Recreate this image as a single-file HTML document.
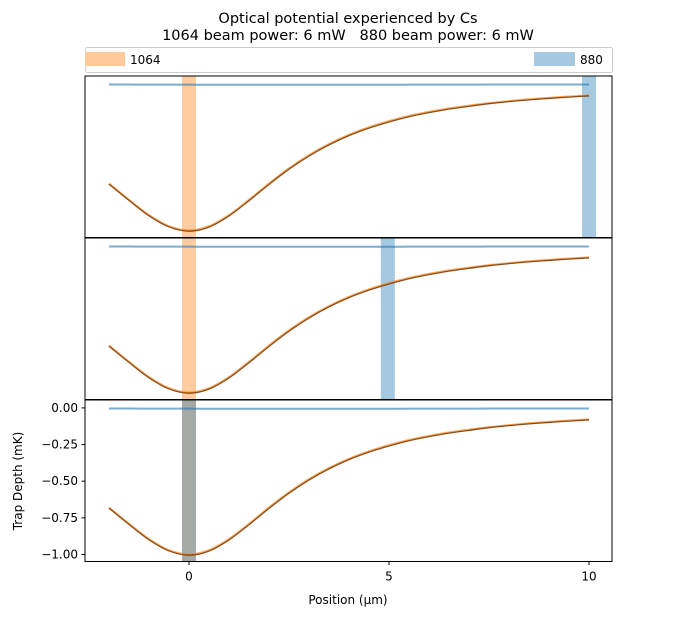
<!DOCTYPE html>
<html><head><meta charset="utf-8">
<style>body{margin:0;background:#fff}svg{display:block;font-family:"DejaVu Sans","Liberation Sans",sans-serif}</style>
</head><body>
<svg id="chart" width="680" height="631" xmlns="http://www.w3.org/2000/svg">
<text x="348" y="23" font-size="14.5" text-anchor="middle">Optical potential experienced by Cs</text>
<text x="348" y="40" font-size="14.5" text-anchor="middle" xml:space="preserve" style="white-space:pre">1064 beam power: 6 mW   880 beam power: 6 mW</text>
<g>
<rect x="85.5" y="47.5" width="527" height="25" fill="#fff" stroke="#ccc" rx="2"/>
<rect x="85" y="52" width="40" height="14" fill="#ffc999"/>
<text x="130" y="64" font-size="12">1064</text>
<rect x="534" y="52" width="41" height="14" fill="#a6c8e0"/>
<text x="580" y="64" font-size="12">880</text>
</g>
<g id="plots"></g>
</svg>
<script>
const positions=[-2,-1.5,-1,-0.5,0,0.5,1,1.5,2,2.5,3,3.5,4,4.5,5,5.5,6,6.5,7,7.5,8,8.5,9,9.5,10];
const trap1064=[-0.680,-0.791,-0.895,-0.971,-1.000,-0.971,-0.895,-0.791,-0.680,-0.576,-0.486,-0.410,-0.347,-0.296,-0.254,-0.219,-0.191,-0.167,-0.148,-0.131,-0.117,-0.105,-0.095,-0.086,-0.078];
const trap880=[-0.004,-0.004,-0.005,-0.005,-0.005,-0.006,-0.006,-0.006,-0.006,-0.006,-0.006,-0.006,-0.006,-0.006,-0.006,-0.005,-0.005,-0.005,-0.005,-0.004,-0.004,-0.004,-0.004,-0.004,-0.004];
const beam880Pos=[10,4.97,0];
const beam1064Pos=[0,0,0];
const yTicks=[0,-0.25,-0.5,-0.75,-1.0];
const yTickLabels=["0.00","−0.25","−0.50","−0.75","−1.00"];
const xTicks=[0,5,10];
const xTickLabels=["0","5","10"];

const NS="http://www.w3.org/2000/svg";
const g=document.getElementById('plots');
const L=85,R=612,xmin=-2.6,xmax=10.575;
const panelTops=[76,238,400],PH=161.5,ymax=0.054,ymin=-1.048;
const X=v=>L+(v-xmin)/(xmax-xmin)*(R-L);
function mk(t,a,p){const e=document.createElementNS(NS,t);for(const k in a)e.setAttribute(k,a[k]);(p||g).appendChild(e);return e;}
const total=trap1064.map((v,i)=>v+trap880[i]);
panelTops.forEach((top,pi)=>{
  const Y=v=>top+(ymax-v)/(ymax-ymin)*PH;
  const pg=mk('g',{});
  
  
  const bw=0.35*(R-L)/(xmax-xmin);
  const b1=mk('rect',{x:X(beam1064Pos[pi])-bw/2,y:top,width:bw,height:PH,fill:'#ff7f0e','fill-opacity':0.4},pg);
  
  
  const b2=mk('rect',{x:X(beam880Pos[pi])-bw/2,y:top,width:bw,height:PH,fill:'#1f77b4','fill-opacity':0.4},pg);
  
  
  const path=arr=>{
    const p=arr.map((v,i)=>[X(positions[i]),Y(v)]);
    let d='M'+p[0][0].toFixed(2)+','+p[0][1].toFixed(2);
    for(let i=0;i<p.length-1;i++){
      const p0=p[Math.max(0,i-1)],p1=p[i],p2=p[i+1],p3=p[Math.min(p.length-1,i+2)];
      const c1=[p1[0]+(p2[0]-p0[0])/6,p1[1]+(p2[1]-p0[1])/6];
      const c2=[p2[0]-(p3[0]-p1[0])/6,p2[1]-(p3[1]-p1[1])/6];
      d+='C'+c1.map(n=>n.toFixed(2))+' '+c2.map(n=>n.toFixed(2))+' '+p2.map(n=>n.toFixed(2));
    }
    return d;
  };
  const l880=mk('path',{d:path(trap880),fill:'none',stroke:'#1f77b4','stroke-opacity':0.6,'stroke-width':2},pg);
  
  
  const l1064=mk('path',{d:path(trap1064),fill:'none',stroke:'#ff7f0e','stroke-opacity':0.7,'stroke-width':2},pg);
  
  
  const lt=mk('path',{d:path(total),fill:'none',stroke:'#6b3508','stroke-width':1.3,'stroke-opacity':0.8},pg);
  
  
  const fr=mk('rect',{x:L,y:top,width:R-L,height:PH,fill:'none',stroke:'#000','stroke-width':1},pg);
  
  
  if(pi===2){
    yTicks.forEach((t,i)=>{
      mk('line',{x1:L-3.5,x2:L,y1:Y(t),y2:Y(t),stroke:'#000'},pg);
      const tx=mk('text',{x:L-7,y:Y(t)+4,'font-size':12,'text-anchor':'end'},pg);
      tx.textContent=yTickLabels[i];
      
      
    });
    xTicks.forEach((t,i)=>{
      mk('line',{x1:X(t),x2:X(t),y1:top+PH,y2:top+PH+3.5,stroke:'#000'},pg);
      const tx=mk('text',{x:X(t),y:top+PH+19,'font-size':12,'text-anchor':'middle'},pg);
      tx.textContent=xTickLabels[i];
      
      
    });
  }
});
const xl=mk('text',{x:348,y:604,'font-size':12,'text-anchor':'middle'});
xl.textContent='Position (μm)';


const yl=mk('text',{x:0,y:0,'font-size':12,'text-anchor':'middle',transform:'translate(22,481) rotate(-90)'});
yl.textContent='Trap Depth (mK)';


</script>
</body></html>
